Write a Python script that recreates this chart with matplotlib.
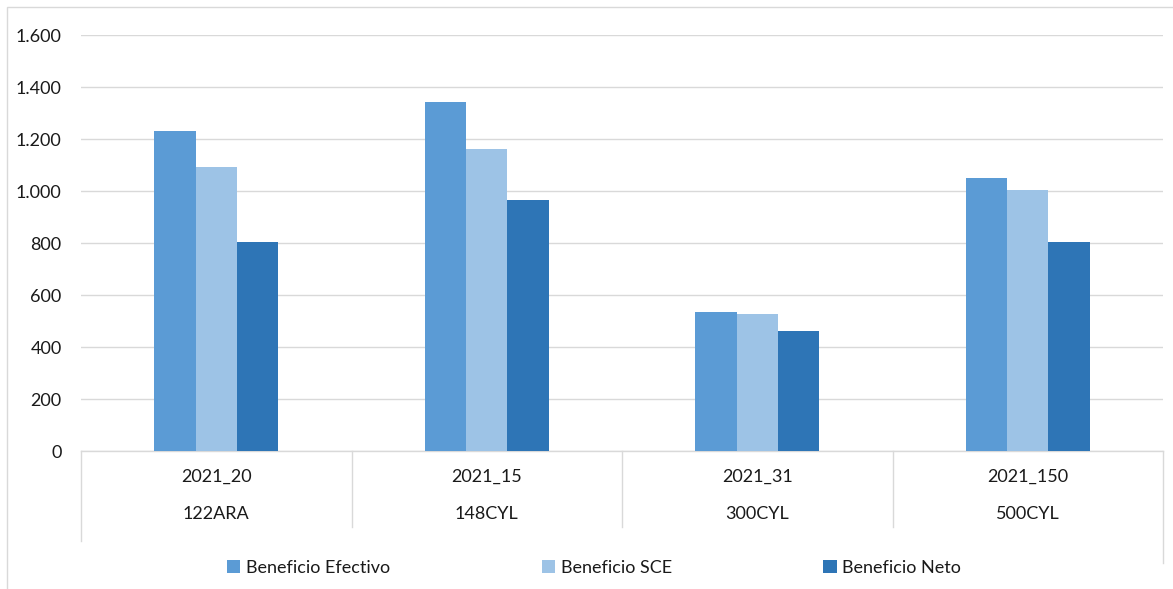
import numpy as np
import matplotlib.pyplot as plt
from matplotlib.patches import Rectangle, Patch
from matplotlib.transforms import blended_transform_factory
from matplotlib.ticker import FuncFormatter

plt.rcParams['font.family'] = ['Lato', 'DejaVu Sans']

# datos
codigos = ['2021_20', '2021_15', '2021_31', '2021_150']
zonas = ['122ARA', '148CYL', '300CYL', '500CYL']
series = ['Beneficio Efectivo', 'Beneficio SCE', 'Beneficio Neto']
ben_efectivo = [1230, 1342, 535, 1050]
ben_sce = [1093, 1160, 527, 1003]
ben_neto = [803, 965, 460, 805]
colores = ['#5B9BD5', '#9DC3E6', '#2E75B6']

W, H = 1173, 589
fs = 13
fig = plt.figure(figsize=(W / 100, H / 100), dpi=100)
ax = fig.add_axes([81 / W, 1 - 451 / H, 1082 / W, 416 / H])

valores = [ben_efectivo, ben_sce, ben_neto]
x = np.arange(len(codigos)) + 0.5
ancho = 0.153
for k, (vals, col) in enumerate(zip(valores, colores)):
    ax.bar(x + (k - 1) * ancho, vals, width=ancho, color=col, zorder=3)

ax.set_xlim(0, 4)
ax.set_ylim(0, 1600)
ax.set_yticks(np.arange(0, 1601, 200))
ax.yaxis.set_major_formatter(FuncFormatter(lambda v, p: f'{int(v):,}'.replace(',', '.')))
ax.tick_params(axis='y', length=0, pad=14, labelsize=fs, labelcolor='#1a1a1a')
ax.set_xticks([])
ax.grid(axis='y', color='#D9D9D9', linewidth=1, zorder=0)
for s in ['top', 'right', 'left']:
    ax.spines[s].set_visible(False)
ax.spines['bottom'].set_color('#D9D9D9')
ax.spines['bottom'].set_linewidth(1)

# eje de categorias de dos niveles
tr = blended_transform_factory(ax.transData, ax.transAxes)
for i in range(len(codigos)):
    ax.text(x[i], -26 / 416, codigos[i], transform=tr, ha='center', va='center',
            fontsize=fs, color='#1a1a1a')
    ax.text(x[i], -63 / 416, zonas[i], transform=tr, ha='center', va='center',
            fontsize=fs, color='#1a1a1a')
for xs in [1, 2, 3]:
    ax.plot([xs, xs], [0, -76 / 416], transform=tr, color='#D9D9D9', lw=1, clip_on=False)
ax.plot([0, 0], [0, -90 / 416], transform=tr, color='#D9D9D9', lw=1, clip_on=False)
ax.plot([4, 4], [0, -112 / 416], transform=tr, color='#D9D9D9', lw=1, clip_on=False)

# leyenda
handles = [Patch(facecolor=c, edgecolor='none', label=s) for c, s in zip(colores, series)]
fig.legend(handles=handles, loc='center', bbox_to_anchor=(594 / W, 1 - 568 / H), ncol=3,
           frameon=False, fontsize=fs, handlelength=0.75, handleheight=0.75,
           handletextpad=0.3, columnspacing=8.4, labelcolor='#1a1a1a')

# borde del grafico
fig.patches.append(Rectangle((7 / W, -0.1), 1.2, 1.1 - 7 / H, transform=fig.transFigure,
                             fill=False, edgecolor='#D9D9D9', lw=1))

fig.savefig('out.png', dpi=100)
